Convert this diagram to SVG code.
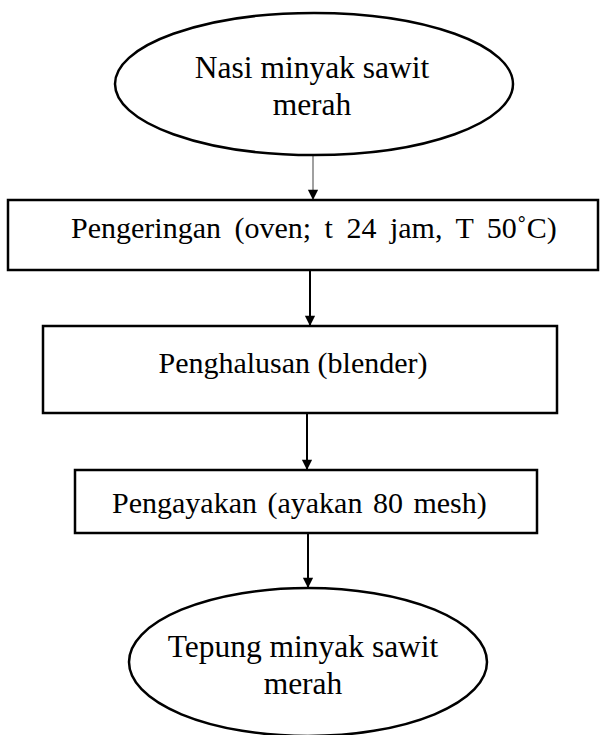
<svg xmlns="http://www.w3.org/2000/svg" width="607" height="735" viewBox="0 0 607 735">
<defs>
<marker id="ah" viewBox="0 0 12 14" refX="12" refY="6" markerWidth="14" markerHeight="12" markerUnits="userSpaceOnUse" orient="auto"><path d="M0,0 L12,6 L0,12 z" fill="#000"/></marker>
<style>
.shape{fill:#fff;stroke:#000;stroke-width:2.5}
.t{font-family:"Liberation Serif","Times New Roman",serif;font-size:30px;fill:#000}
.e{font-size:31.5px}
.c{stroke:#000;stroke-width:2;fill:none}
</style>
</defs>
<rect width="607" height="735" fill="#fff"/>
<g id="connectors">
<line x1="313" y1="155" x2="313" y2="200" stroke="#808080" stroke-width="1.5" marker-end="url(#ah)"/>
<line class="c" x1="310" y1="270" x2="310" y2="326" marker-end="url(#ah)"/>
<line class="c" x1="307" y1="413" x2="307" y2="470" marker-end="url(#ah)"/>
<line class="c" x1="308" y1="533" x2="308" y2="588" marker-end="url(#ah)"/>
</g>
<g id="n1">
<ellipse class="shape" cx="314" cy="84" rx="199" ry="71"/>
<text class="t e" x="312" y="78" text-anchor="middle">Nasi minyak sawit</text>
<text class="t e" x="312" y="115" text-anchor="middle">merah</text>
</g>
<g id="n2">
<rect class="shape" x="8" y="200" width="590" height="70"/>
<text class="t" x="71" y="238" word-spacing="6">Pengeringan (oven; t 24 jam, T 50˚C)</text>
</g>
<g id="n3">
<rect class="shape" x="43" y="326" width="514" height="87"/>
<text class="t" x="293" y="373" text-anchor="middle">Penghalusan (blender)</text>
</g>
<g id="n4">
<rect class="shape" x="75" y="470" width="462" height="63"/>
<text class="t" x="112" y="513" word-spacing="3">Pengayakan (ayakan 80  mesh)</text>
</g>
<g id="n5">
<ellipse class="shape" cx="308" cy="662" rx="179" ry="74"/>
<text class="t e" x="303" y="657" text-anchor="middle">Tepung minyak sawit</text>
<text class="t e" x="303" y="694" text-anchor="middle">merah</text>
</g>
</svg>
